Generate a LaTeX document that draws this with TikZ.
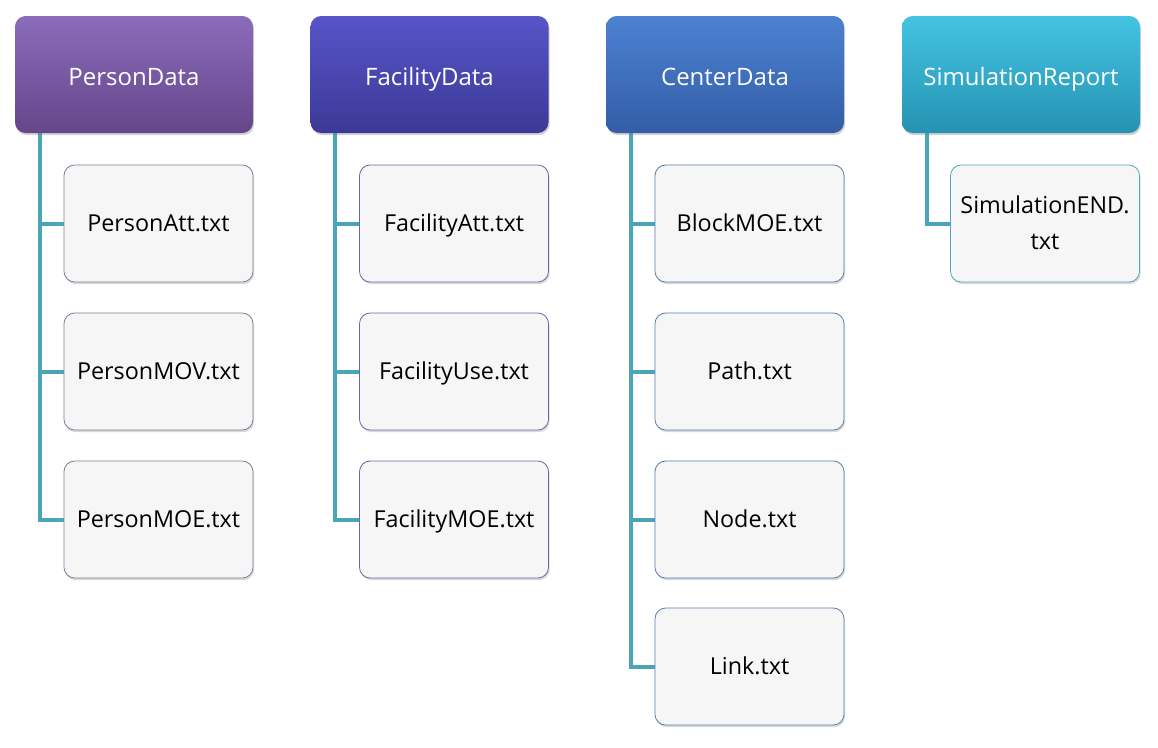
\documentclass[tikz,border=0pt]{standalone}
\usepackage{fontspec}
\setmainfont{Open Sans}
\usetikzlibrary{shadows,backgrounds}
\definecolor{persontop}{HTML}{8A6CBB}
\definecolor{personbot}{HTML}{65468A}
\definecolor{facilitytop}{HTML}{5755C8}
\definecolor{facilitybot}{HTML}{3C3996}
\definecolor{centertop}{HTML}{4C82D2}
\definecolor{centerbot}{HTML}{335DA6}
\definecolor{simtop}{HTML}{44C4E2}
\definecolor{simbot}{HTML}{2592B2}
\definecolor{personline}{HTML}{857799}
\definecolor{facilityline}{HTML}{6C68A6}
\definecolor{centerline}{HTML}{5A7EAE}
\definecolor{simline}{HTML}{52A8BA}
\definecolor{leaffill}{HTML}{F6F6F6}
\definecolor{connline}{HTML}{4AA6B6}
\begin{document}
\begin{tikzpicture}[line join=round,x=0.75pt,y=-0.75pt]
	\tikzset{
		head/.style={rounded corners=8pt,minimum width=178.5pt,minimum height=87.75pt,inner sep=0pt,
			text=white,font=\fontsize{18}{22}\selectfont,text height=16pt,text depth=0pt,
			drop shadow={shadow xshift=0.8pt,shadow yshift=-1.6pt,opacity=0.35}},
		leaf/.style={rounded corners=8pt,minimum width=141.75pt,minimum height=87.75pt,inner sep=0pt,
			fill=leaffill,line width=0.6pt,align=center,font=\fontsize{17.5}{27}\selectfont,
			text height=12.5pt,text depth=0pt,
			drop shadow={shadow xshift=0.8pt,shadow yshift=-1.6pt,opacity=0.3}},
		conn/.style={draw=connline,line width=3pt}
	}
	\useasboundingbox (0,0) rectangle (1158,747);
	% headers
	\node[head,top color=persontop,bottom color=personbot] (person) at (134,74.5) {PersonData};
	\node[head,top color=facilitytop,bottom color=facilitybot] (facility) at (429.5,74.5) {FacilityData};
	\node[head,top color=centertop,bottom color=centerbot] (center) at (725,74.5) {CenterData};
	\node[head,top color=simtop,bottom color=simbot] (sim) at (1021,74.5) {SimulationReport};
	% PersonData
	\foreach \n/\y/\t in {personatt/223.5/PersonAtt.txt,personmov/371.5/PersonMOV.txt,personmoe/519.5/PersonMOE.txt}{
		\node[leaf,draw=personline] (\n) at (158.5,\y) {\t};
		\begin{scope}[on background layer]
			\draw[conn] (person.south west) ++(25,0) |- (\n.west);
		\end{scope}
	}
	% FacilityData
	\foreach \n/\y/\t in {facilityatt/223.5/FacilityAtt.txt,facilityuse/371.5/FacilityUse.txt,facilitymoe/519.5/FacilityMOE.txt}{
		\node[leaf,draw=facilityline] (\n) at (454,\y) {\t};
		\begin{scope}[on background layer]
			\draw[conn] (facility.south west) ++(25,0) |- (\n.west);
		\end{scope}
	}
	% CenterData
	\foreach \n/\y/\t in {blockmoe/223.5/BlockMOE.txt,path/371.5/Path.txt,nodefile/519.5/Node.txt,link/666.5/Link.txt}{
		\node[leaf,draw=centerline] (\n) at (749.5,\y) {\t};
		\begin{scope}[on background layer]
			\draw[conn] (center.south west) ++(25,0) |- (\n.west);
		\end{scope}
	}
	% SimulationReport
	\node[leaf,draw=simline,text height=39.5pt] (simend) at (1045,223.5) {SimulationEND.\\txt};
	\begin{scope}[on background layer]
		\draw[conn] (sim.south west) ++(25,0) |- (simend.west);
	\end{scope}
\end{tikzpicture}
\end{document}
